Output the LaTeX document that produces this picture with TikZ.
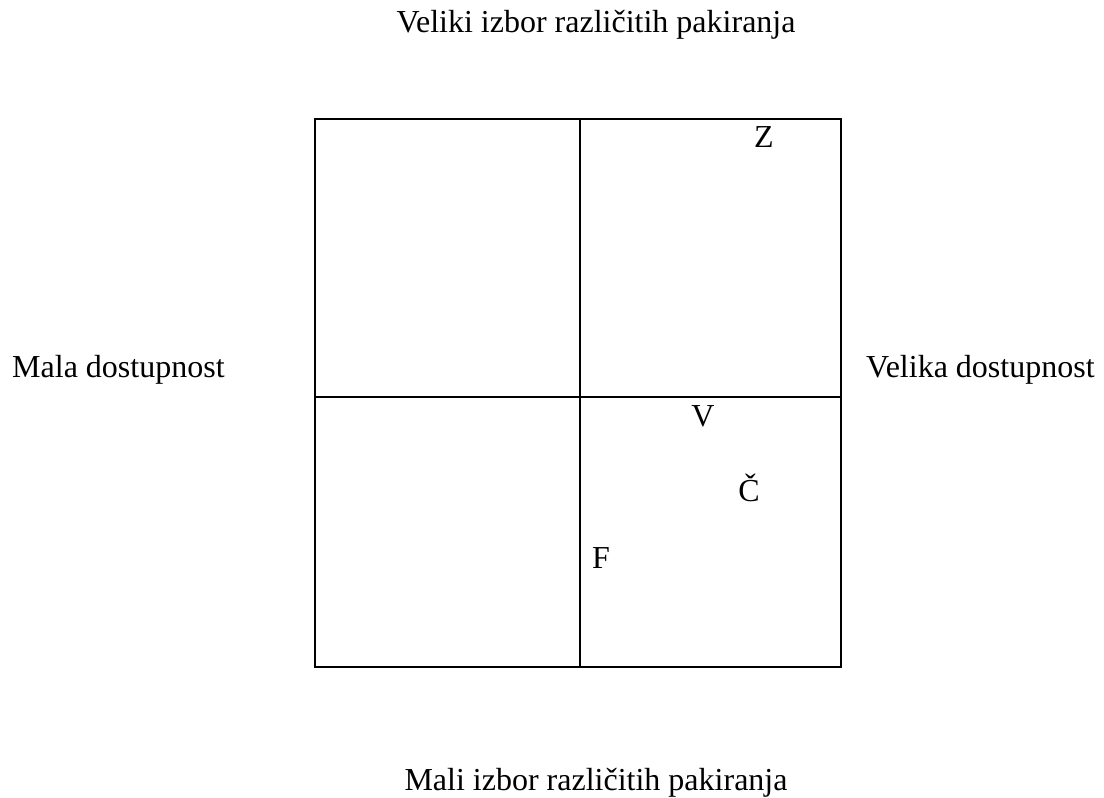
\documentclass[tikz,border=0pt]{standalone}
\usepackage{fontspec}
\setmainfont{Liberation Serif}
\begin{document}
\begin{tikzpicture}[x=1pt,y=-1pt,
  lbl/.style={font=\fontsize{32}{36}\selectfont, inner sep=0pt},
  frame/.style={line width=1.9pt, black}]
\useasboundingbox (0,0) rectangle (1104,798);
\draw[frame] (315,119) rectangle (841,667);
\coordinate (mt) at (580,119);
\coordinate (mb) at (580,667);
\coordinate (ml) at (315,397);
\coordinate (mr) at (841,397);
\draw[frame] (mt) -- (mb);
\draw[frame] (ml) -- (mr);
\node[lbl,anchor=base] (top) at (596,32) {Veliki izbor različitih pakiranja};
\node[lbl,anchor=base] (bot) at (596,790) {Mali izbor različitih pakiranja};
\node[lbl,anchor=base west] (left) at (12,377) {Mala dostupnost};
\node[lbl,anchor=base west] (right) at (866,377) {Velika dostupnost};
\node[lbl,anchor=base] (z) at (764,147) {Z};
\node[lbl,anchor=base] (v) at (703,426) {V};
\node[lbl,anchor=base] (c) at (749,501) {Č};
\node[lbl,anchor=base] (f) at (601,568) {F};
\end{tikzpicture}
\end{document}
